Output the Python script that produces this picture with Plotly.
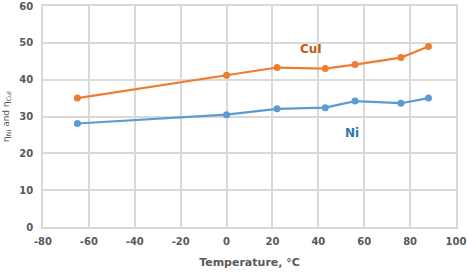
import plotly.graph_objects as go

temperature = [-65, 0, 22, 43, 56, 76, 88]
eta_cui = [35.0, 41.2, 43.3, 43.0, 44.1, 46.0, 49.0]
eta_ni = [28.1, 30.5, 32.1, 32.4, 34.2, 33.6, 35.0]

x_ticks = [-80, -60, -40, -20, 0, 20, 40, 60, 80, 100]
x_tick_labels = ["-80", "-60", "-40", "-20", "0", "20", "40", "60", "80", "100"]
y_ticks = [0, 10, 20, 30, 40, 50, 60]

ORANGE = "#ED7D31"
BLUE = "#5B9BD5"
GRID = "#D9D9D9"
TXT = "#595959"

fig = go.Figure()
fig.add_trace(go.Scatter(x=temperature, y=eta_cui, mode="lines+markers", name="CuI",
                         line=dict(color=ORANGE, width=2.25),
                         marker=dict(color=ORANGE, size=7)))
fig.add_trace(go.Scatter(x=temperature, y=eta_ni, mode="lines+markers", name="Ni",
                         line=dict(color=BLUE, width=2.25),
                         marker=dict(color=BLUE, size=7)))

fig.add_annotation(x=37, y=48.3, text="<b>CuI</b>", showarrow=False,
                   font=dict(color="#C55A11", size=12, family="DejaVu Sans"))
fig.add_annotation(x=54.8, y=25.5, text="<b>Ni</b>", showarrow=False,
                   font=dict(color="#2E75B6", size=12, family="DejaVu Sans"))

fig.update_layout(
    width=468, height=274,
    margin=dict(l=43, r=12, t=6, b=47),
    paper_bgcolor="white", plot_bgcolor="white",
    showlegend=False,
    font=dict(family="DejaVu Sans", color=TXT, size=10),
    xaxis=dict(range=[-80, 100], tickvals=x_ticks, ticktext=x_tick_labels, automargin=False,
               showgrid=True, gridcolor=GRID, gridwidth=1.5,
               zeroline=False, showline=True, linecolor=GRID, linewidth=1.5, mirror=True,
               ticks="", ticklabelstandoff=4, tickfont=dict(size=10, color=TXT, weight="bold"),
               title=dict(text="<b>Temperature, °C</b>", font=dict(size=11, color=TXT), standoff=13)),
    yaxis=dict(range=[0, 60], tickvals=y_ticks, automargin=False,
               showgrid=True, gridcolor=GRID, gridwidth=1.5,
               zeroline=False, showline=True, linecolor=GRID, linewidth=1.5, mirror=True,
               ticks="", ticklabelstandoff=6, tickfont=dict(size=10, color=TXT, weight="bold"),
               title=dict(text="η<sub>Ni</sub> and η<sub>CuI</sub>", font=dict(size=9, color=TXT), standoff=8)),
)

fig.write_html("out.html", config={"displayModeBar": False},
               post_script="document.body.style.margin='0';document.body.style.overflow='hidden';")
